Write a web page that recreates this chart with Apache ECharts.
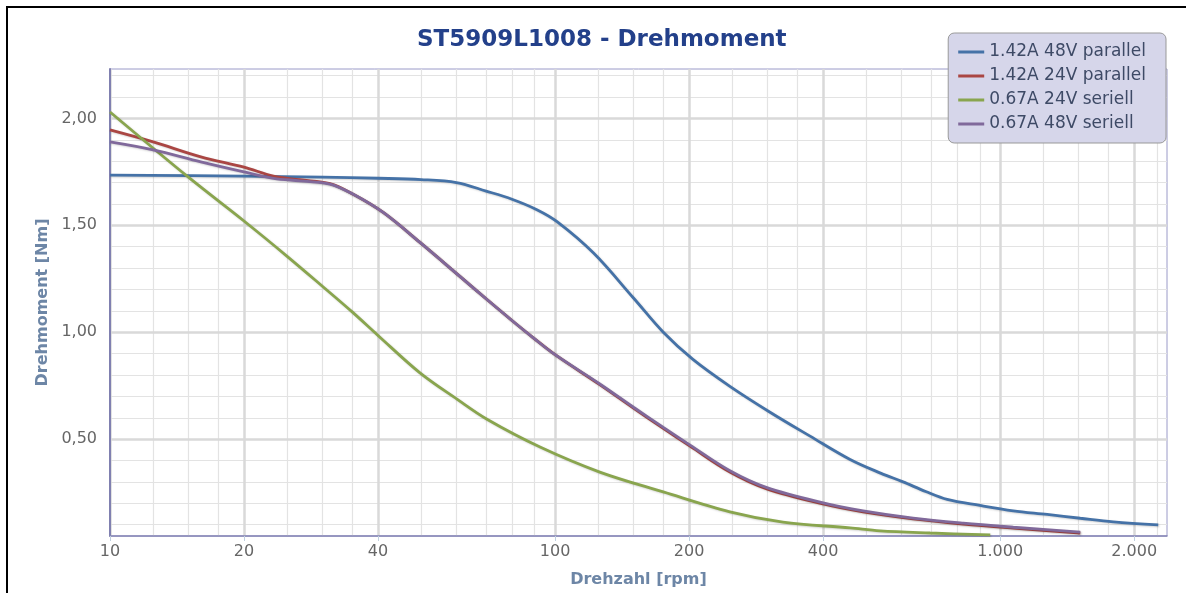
<!DOCTYPE html>
<html>
<head>
<meta charset="utf-8">
<script src="https://cdn.jsdelivr.net/npm/echarts@6/dist/echarts.min.js"></script>
<style>
html,body{margin:0;padding:0;background:#fff;}
#chart{width:1186px;height:593px;}
</style>
</head>
<body>
<div id="chart"></div>
<script>
// ---- data (rpm, Nm) ----
const seriesNames = ['1.42A 48V parallel', '1.42A 24V parallel', '0.67A 24V seriell', '0.67A 48V seriell'];
const blue48par = [[10,1.735],[20,1.73],[30,1.725],[40,1.72],[50,1.714],[60,1.70],[70,1.66],[80,1.622],[91,1.573],[101,1.517],[122,1.37],[150,1.16],[175,1.0],[204,0.873],[247,0.747],[304,0.626],[374,0.514],[460,0.405],[540,0.34],[605,0.30],[680,0.255],[760,0.218],[900,0.19],[1070,0.165],[1275,0.148],[1513,0.13],[1795,0.113],[2265,0.099]];
const red24par = [[10,1.946],[12.5,1.89],[16,1.82],[20,1.772],[23.3,1.73],[26.7,1.713],[31.2,1.695],[35.2,1.645],[41.1,1.56],[49.7,1.42],[61.2,1.26],[70.3,1.153],[80,1.055],[89.2,0.975],[100,0.895],[126,0.755],[150,0.645],[175,0.55],[201,0.467],[247,0.346],[299,0.267],[400,0.197],[492,0.16],[637,0.127],[826,0.103],[1070,0.084],[1513,0.061]];
const green24ser = [[10,2.03],[15,1.725],[20,1.52],[25,1.355],[30,1.215],[35,1.095],[40,0.985],[49.7,0.81],[60.3,0.686],[70.3,0.593],[92.5,0.463],[126,0.346],[175,0.253],[247,0.16],[325,0.112],[460,0.085],[537,0.071],[696,0.061],[950,0.052]];
const purple48ser = [[10,1.89],[12.5,1.853],[16,1.797],[20,1.75],[23.3,1.72],[26.7,1.708],[31.2,1.693],[35.2,1.645],[41.1,1.56],[49.7,1.42],[61.2,1.26],[70.3,1.153],[80,1.055],[89.2,0.975],[100,0.895],[126,0.758],[150,0.649],[175,0.555],[201,0.472],[247,0.352],[299,0.273],[400,0.202],[492,0.165],[637,0.131],[826,0.107],[1070,0.088],[1513,0.065]];
const colors = ['#4572A7', '#AA4643', '#89A54E', '#80699B'];

// ---- axis ticks ----
const xMajorTicks = [10, 20, 40, 100, 200, 400, 1000, 2000];
const xMinorTicks = [12.5, 15, 17.5, 25, 30, 35, 50, 60, 70, 80, 90, 125, 150, 175, 250, 300, 350, 500, 600, 700, 800, 900, 1250, 1500, 1750, 2250];
const yMajorTicks = [0.5, 1.0, 1.5, 2.0];
const yMinorTicks = [0.1, 0.2, 0.3, 0.4, 0.6, 0.7, 0.8, 0.9, 1.1, 1.2, 1.3, 1.4, 1.6, 1.7, 1.8, 1.9, 2.1, 2.2];
const xMin = 10, xMax = 2370, yMin = 0.047, yMax = 2.231;

const fmtX = v => {
  const n = Math.round(v);
  return n >= 1000 ? String(n).replace(/\B(?=(\d{3})+(?!\d))/g, '.') : String(n);
};
const fmtY = v => v.toFixed(2).replace('.', ',');

const FONT = 'DejaVu Sans';
const chart = echarts.init(document.getElementById('chart'));
const seriesData = [blue48par, red24par, green24ser, purple48ser];

chart.setOption({
  animation: false,
  color: colors,
  title: {
    text: 'ST5909L1008 - Drehmoment',
    left: 412, top: 24,
    textStyle: { fontFamily: FONT, fontSize: 23, fontWeight: 'bold', color: '#23408A' }
  },
  legend: {
    orient: 'vertical',
    right: 20, top: 33,
    padding: [10, 20, 10, 10],
    backgroundColor: '#D6D6EA',
    borderColor: '#999999', borderWidth: 1, borderRadius: 6,
    icon: 'rect', itemWidth: 26, itemHeight: 3, itemGap: 6,
    textStyle: { fontFamily: FONT, fontSize: 17, color: '#3E4A66', lineHeight: 18 },
    data: seriesNames
  },
  grid: {
    left: 110, right: 19, top: 69, bottom: 56,
    show: true, borderColor: '#9A9AC8', borderWidth: 1, backgroundColor: 'transparent'
  },
  xAxis: [
    {
      type: 'log', logBase: 10, min: xMin, max: xMax,
      name: 'Drehzahl [rpm]', nameLocation: 'middle', nameGap: 36,
      nameTextStyle: { fontFamily: FONT, fontSize: 16, fontWeight: 'bold', color: '#6D86A6' },
      axisLine: { show: true, lineStyle: { color: '#8585B5', width: 1.5 } },
      axisTick: { show: true, length: 5, lineStyle: { color: '#C0D0E0', width: 1 }, customValues: xMajorTicks },
      axisLabel: { customValues: xMajorTicks, formatter: fmtX, margin: 8, fontFamily: FONT, fontSize: 16, color: '#666666' },
      splitLine: { show: true, lineStyle: { color: '#D9D9D9', width: 2.5 } },
      z: 3
    },
    {
      type: 'log', logBase: 10, min: xMin, max: xMax, position: 'bottom',
      axisLine: { show: false },
      axisTick: { show: false, customValues: xMinorTicks },
      axisLabel: { show: false, customValues: xMinorTicks },
      splitLine: { show: true, lineStyle: { color: '#E3E3E3', width: 1.2 } },
      z: 1
    }
  ],
  yAxis: [
    {
      type: 'value', min: yMin, max: yMax,
      name: 'Drehmoment [Nm]', nameLocation: 'middle', nameGap: 58,
      nameTextStyle: { fontFamily: FONT, fontSize: 16, fontWeight: 'bold', color: '#6D86A6' },
      axisLine: { show: true, lineStyle: { color: '#8080B0', width: 2 } },
      axisTick: { show: false, customValues: yMajorTicks },
      axisLabel: { customValues: yMajorTicks, formatter: fmtY, margin: 13, fontFamily: FONT, fontSize: 16, color: '#666666' },
      splitLine: { show: true, lineStyle: { color: '#D9D9D9', width: 2.5 } },
      z: 3
    },
    {
      type: 'value', min: yMin, max: yMax, position: 'left',
      axisLine: { show: false },
      axisTick: { show: false, customValues: yMinorTicks },
      axisLabel: { show: false, customValues: yMinorTicks },
      splitLine: { show: true, lineStyle: { color: '#E3E3E3', width: 1.2 } },
      z: 1
    }
  ],
  graphic: [{
    type: 'polyline',
    shape: { points: [[7, 593], [7, 7], [1186, 7]] },
    style: { stroke: '#000', lineWidth: 2, fill: null },
    z: 100
  }],
  series: seriesNames.map((name, i) => ({
    name: name,
    type: 'line',
    data: seriesData[i],
    smooth: 0.35,
    showSymbol: false,
    xAxisIndex: 0, yAxisIndex: 0,
    lineStyle: { width: 2.8, color: colors[i], shadowColor: 'rgba(0,0,0,0.18)', shadowBlur: 2, shadowOffsetX: 1, shadowOffsetY: 1 },
    itemStyle: { color: colors[i] },
    z: 5 + i
  }))
});
</script>
</body>
</html>
